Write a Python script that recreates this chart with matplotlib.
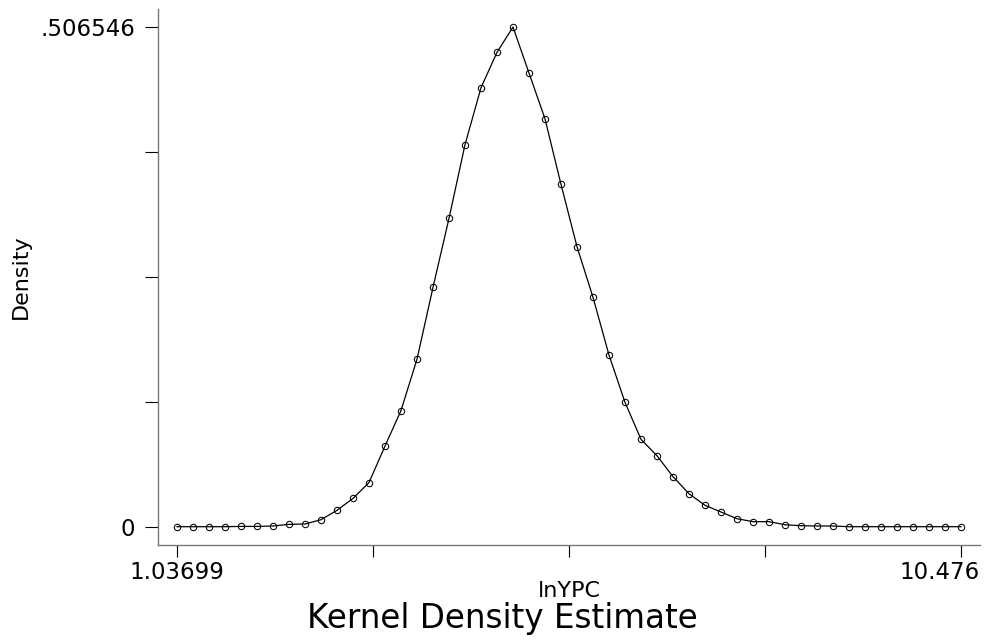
import numpy as np
import matplotlib
matplotlib.use('Agg')
import matplotlib.pyplot as plt
from matplotlib.transforms import ScaledTranslation

# kernel density of lnYPC, evaluated on 50 grid points between min and max
x_min = 1.03699
x_max = 10.476
n_points = 50
density = [0.0003, 0.0003, 0.0003, 0.0003, 0.0006, 0.0006, 0.001, 0.0027, 0.003, 0.0074,
           0.0169, 0.029, 0.045, 0.082, 0.118, 0.170, 0.2428, 0.3127, 0.3873, 0.4450,
           0.4809, 0.506546, 0.4599, 0.4136, 0.3471, 0.2840, 0.2327, 0.1742, 0.1263, 0.0888,
           0.0722, 0.0510, 0.0337, 0.0220, 0.0152, 0.0084, 0.0054, 0.0054, 0.0023, 0.0013,
           0.0010, 0.0010, 0.0003, 0.0003, 0.0003, 0.0003, 0.0003, 0.0003, 0.0003, 0.0003]
y_max = 0.506546
x_label_text = ['1.03699', '10.476']
y_label_text = ['0', '.506546']

grid = np.linspace(x_min, x_max, n_points)

plt.rcParams['font.family'] = ['DejaVu Sans']

fig = plt.figure(figsize=(9.89, 6.4), dpi=100)
ax = fig.add_axes([158 / 989, 95 / 640, 822 / 989, 536 / 640])

ax.plot(grid, density, color='black', lw=0.9, marker='o', ms=4.6,
        mfc='none', mec='black', mew=0.75)

ax.set_xlim(x_min - (x_max - x_min) * 19 / 784, x_max + (x_max - x_min) * 19 / 784)
ax.set_ylim(-y_max * 18 / 500, y_max + y_max * 18 / 500)

ax.spines['top'].set_visible(False)
ax.spines['right'].set_visible(False)
for s in ['left', 'bottom']:
    ax.spines[s].set_color('#777777')
    ax.spines[s].set_linewidth(1.0)

xt = np.linspace(x_min, x_max, 5)
ax.set_xticks(xt)
ax.set_xticklabels([x_label_text[0], '', '', '', x_label_text[1]], fontsize=16.5)
yt = np.linspace(0, y_max, 5)
ax.set_yticks(yt)
ax.set_yticklabels([y_label_text[0], '', '', '', y_label_text[1]], fontsize=16.5)
ax.tick_params(axis='x', length=8.6, width=0.8, color='black', pad=3)
ax.tick_params(axis='y', length=9.4, width=0.8, color='black', pad=7)

# Stata pulls the last x label inside the axis line
last = ax.get_xticklabels()[-1]
last.set_horizontalalignment('right')
last.set_transform(last.get_transform() + ScaledTranslation(19 / 100, 0, fig.dpi_scale_trans))

ax.set_xlabel('lnYPC', fontsize=16, va='baseline')
ax.xaxis.set_label_coords(0.5, (545 - 597) / 536)
ax.set_ylabel('Density', fontsize=16, va='center', ha='center')
ax.yaxis.set_label_coords((21 - 158) / 822, 0.5)

fig.text(502 / 989, 1 - 628 / 640, 'Kernel Density Estimate', fontsize=23.5,
         ha='center', va='baseline')

fig.savefig('out.png', dpi=100)
